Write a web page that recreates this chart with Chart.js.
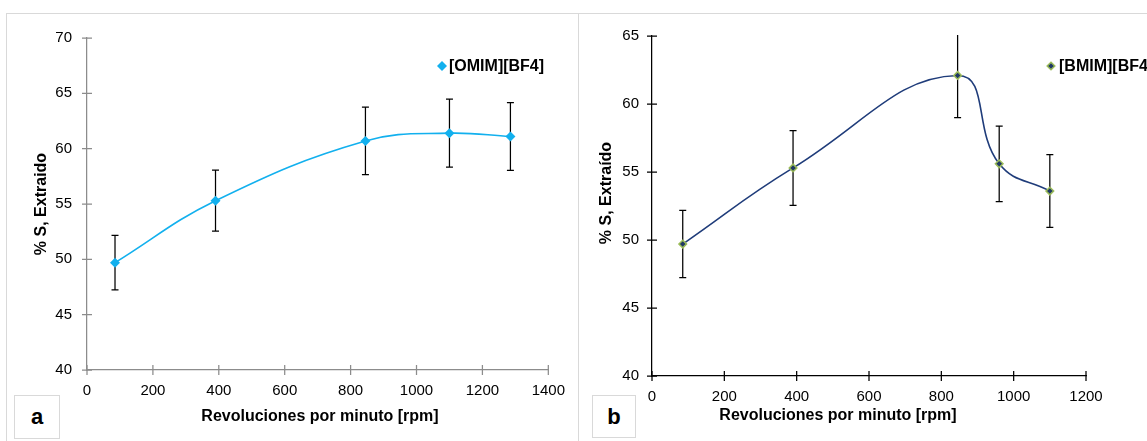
<!DOCTYPE html>
<html>
<head>
<meta charset="utf-8">
<script src="https://cdn.jsdelivr.net/npm/chart.js@4.4.0/dist/chart.umd.min.js"></script>
<style>
  html, body { margin:0; padding:0; background:#fff; width:1147px; height:441px; overflow:hidden; position:relative; font-family:"Liberation Sans", Arial, sans-serif; }
  .frame { position:absolute; border:1px solid #d9d9d9; box-sizing:border-box; }
  #panelA { left:6px; top:13px; width:573px; height:460px; }
  #panelB { left:578px; top:13px; width:620px; height:460px; }
  .wrap { position:absolute; }
  #wrapA { left:7px; top:14px; width:570px; height:427px; }
  #wrapB { left:579px; top:14px; width:568px; height:427px; }
  .lbl { position:absolute; border:1px solid #d9d9d9; box-sizing:border-box; background:#fff; font-weight:bold; font-size:22px; color:#000; display:flex; align-items:center; justify-content:center; }
  #lblA { left:14px; top:395px; width:46px; height:44px; }
  #lblB { left:592px; top:395px; width:44px; height:43px; }
</style>
</head>
<body>
<div class="frame" id="panelA"></div>
<div class="frame" id="panelB"></div>
<div class="wrap" id="wrapA"><canvas id="chartA" width="570" height="427"></canvas></div>
<div class="wrap" id="wrapB"><canvas id="chartB" width="568" height="427"></canvas></div>
<div class="lbl" id="lblA">a</div>
<div class="lbl" id="lblB">b</div>
<script>
// ---- data ----
const rpmA = [85, 390, 845, 1100, 1285];
const extractedA = [49.7, 55.3, 60.7, 61.4, 61.1];
const errorA = [2.47, 2.75, 3.05, 3.07, 3.07];

const rpmB = [85, 390, 845, 960, 1100];
const extractedB = [49.7, 55.3, 62.1, 55.6, 53.6];
const errorB = [2.47, 2.75, 3.1, 2.77, 2.68];

const xTicksA = [0, 200, 400, 600, 800, 1000, 1200, 1400];
const yTicksA = [40, 45, 50, 55, 60, 65, 70];
const xTicksB = [0, 200, 400, 600, 800, 1000, 1200];
const yTicksB = [40, 45, 50, 55, 60, 65];

const seriesNameA = '[OMIM][BF4]';
const seriesNameB = '[BMIM][BF4]';
const xTitle = 'Revoluciones por minuto [rpm]';
const yTitleA = '% S, Extraido';
const yTitleB = '% S, Extraído';

const FONT = '"Liberation Sans", Arial, sans-serif';

function makeChart(id, c) {
  const decor = {
    id: 'decor_' + id,
    beforeDatasetsDraw(chart) {
      const {ctx, chartArea: a, scales: {x, y}} = chart;
      ctx.save();
      ctx.beginPath();
      ctx.rect(a.left, a.top - 1, a.right - a.left, a.bottom - a.top + 2);
      ctx.clip();
      ctx.strokeStyle = '#000';
      ctx.lineWidth = 1.25;
      c.xs.forEach((xv, i) => {
        const px = x.getPixelForValue(xv);
        const top = y.getPixelForValue(c.ys[i] + c.err[i]);
        const bot = y.getPixelForValue(c.ys[i] - c.err[i]);
        ctx.beginPath();
        ctx.moveTo(px, top); ctx.lineTo(px, bot);
        ctx.moveTo(px - 3.5, top); ctx.lineTo(px + 3.5, top);
        ctx.moveTo(px - 3.5, bot); ctx.lineTo(px + 3.5, bot);
        ctx.stroke();
      });
      ctx.restore();
    },
    afterDraw(chart) {
      const {ctx, chartArea: a, scales: {x, y}} = chart;
      ctx.save();
      // crossing tick marks
      ctx.strokeStyle = c.axisColor;
      ctx.lineWidth = 1.25;
      ctx.beginPath();
      c.xTicks.forEach(v => { const p = x.getPixelForValue(v); ctx.moveTo(p, a.bottom - 5); ctx.lineTo(p, a.bottom + 5); });
      c.yTicks.forEach(v => { const p = y.getPixelForValue(v); ctx.moveTo(a.left - 5, p); ctx.lineTo(a.left + 5, p); });
      ctx.stroke();
      // axis titles
      ctx.fillStyle = '#000';
      ctx.font = 'bold 16px ' + FONT;
      ctx.textAlign = 'center';
      ctx.textBaseline = 'middle';
      ctx.fillText(xTitle, c.xTitlePos[0], c.xTitlePos[1]);
      ctx.save();
      ctx.translate(c.yTitlePos[0], c.yTitlePos[1]);
      ctx.rotate(-Math.PI / 2);
      ctx.fillText(c.yTitle, 0, 0);
      ctx.restore();
      // legend
      const [mx, my] = c.legendPos;
      ctx.beginPath();
      const r = c.legendR;
      ctx.moveTo(mx, my - r); ctx.lineTo(mx + r, my); ctx.lineTo(mx, my + r); ctx.lineTo(mx - r, my); ctx.closePath();
      ctx.fillStyle = c.pointFill;
      ctx.fill();
      if (c.pointBorderWidth > 0) { ctx.strokeStyle = c.pointBorder; ctx.lineWidth = c.pointBorderWidth; ctx.stroke(); }
      ctx.fillStyle = '#000';
      ctx.textAlign = 'left';
      ctx.fillText(c.name, c.legendTextX, my + 1);
      ctx.restore();
    }
  };

  return new Chart(document.getElementById(id), {
    type: 'line',
    data: {
      datasets: [{
        label: c.name,
        data: c.xs.map((xv, i) => ({x: xv, y: c.ys[i]})),
        borderColor: c.lineColor,
        borderWidth: 1.6,
        tension: c.tension,
        fill: false,
        pointStyle: 'rectRot',
        pointRadius: c.pointR,
        pointBackgroundColor: c.pointFill,
        pointBorderColor: c.pointBorder,
        pointBorderWidth: c.pointBorderWidth,
        clip: false
      }]
    },
    options: {
      responsive: false,
      animation: false,
      events: [],
      layout: { padding: { left: 0, top: c.padTop, right: c.padRight, bottom: 0 } },
      plugins: { legend: { display: false }, tooltip: { enabled: false }, title: { display: false } },
      scales: {
        x: {
          type: 'linear',
          min: c.xTicks[0], max: c.xTicks[c.xTicks.length - 1],
          afterBuildTicks: s => { s.ticks = c.xTicks.map(v => ({value: v})); },
          afterFit: s => { s.height = c.xAxisH; },
          grid: { display: false, drawTicks: false },
          border: { display: true, color: c.axisColor, width: 1.25 },
          ticks: { padding: 12, color: '#000', font: { size: 15, family: FONT }, maxRotation: 0, autoSkip: false, callback: v => String(v) }
        },
        y: {
          type: 'linear',
          min: c.yTicks[0], max: c.yTicks[c.yTicks.length - 1],
          afterBuildTicks: s => { s.ticks = c.yTicks.map(v => ({value: v})); },
          afterFit: s => { s.width = c.yAxisW; },
          grid: { display: false, drawTicks: false },
          border: { display: true, color: c.axisColor, width: 1.25 },
          ticks: { padding: c.yPad, color: '#000', font: { size: 15, family: FONT }, autoSkip: false, callback: v => String(v) }
        }
      }
    },
    plugins: [decor]
  });
}

makeChart('chartA', {
  xs: rpmA, ys: extractedA, err: errorA, xTicks: xTicksA, yTicks: yTicksA,
  name: seriesNameA, yTitle: yTitleA, tension: 0.4,
  lineColor: '#12b0ee', pointFill: '#12b0ee', pointBorder: '#12b0ee', pointBorderWidth: 0, pointR: 5, legendR: 5,
  axisColor: '#8c8c8c',
  padTop: 22, padRight: 26, xAxisH: 71, yAxisW: 80, yPad: 15,
  xTitlePos: [313, 403], yTitlePos: [35, 190], legendPos: [435, 52], legendTextX: 442
});

makeChart('chartB', {
  xs: rpmB, ys: extractedB, err: errorB, xTicks: xTicksB, yTicks: yTicksB,
  name: seriesNameB, yTitle: yTitleB, tension: 0.45,
  lineColor: '#1f3c7a', pointFill: '#1f3864', pointBorder: '#9bbb59', pointBorderWidth: 1.5, pointR: 3.8, legendR: 3.8,
  axisColor: '#000',
  padTop: 22, padRight: 61, xAxisH: 65, yAxisW: 73, yPad: 13,
  xTitlePos: [259, 402], yTitlePos: [28, 179], legendPos: [472, 52], legendTextX: 480
});
</script>
</body>
</html>
